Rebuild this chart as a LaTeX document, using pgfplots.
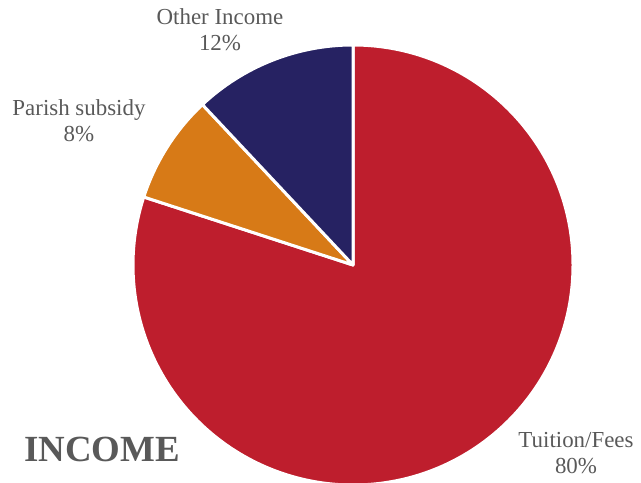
\documentclass[border=0pt]{standalone}
\usepackage{pgfplots}
\usepackage{pgfplotstable}
\pgfplotsset{compat=1.18}
\usepackage{fontspec}
\setmainfont{Liberation Serif}

\definecolor{tuition}{HTML}{BE1E2D}
\definecolor{parish}{HTML}{D77A17}
\definecolor{other}{HTML}{262262}
\definecolor{labelgray}{HTML}{595959}

% share in percent, label position in axis units (1 unit = 1bp)
\pgfplotstableread[col sep=comma]{
name,share,colour,lx,ly
Tuition/Fees,80,tuition,576,30
Parish subsidy,8,parish,79,362
Other Income,12,other,220,453
}\incometable

\begin{document}
\begin{tikzpicture}
\begin{axis}[
    scale only axis,
    width=641bp, height=483bp,
    xmin=0, xmax=641, ymin=0, ymax=483,
    hide axis,
]
\pgfplotstablegetrowsof{\incometable}
\pgfmathtruncatemacro\lastrow{\pgfplotsretval-1}
\def\startangle{90}
\pgfplotsforeachungrouped \i in {0,...,\lastrow}{
    \pgfplotstablegetelem{\i}{share}\of\incometable \let\share\pgfplotsretval
    \pgfplotstablegetelem{\i}{colour}\of\incometable \let\colour\pgfplotsretval
    \pgfmathsetmacro\endangle{\startangle-3.6*\share}
    \edef\next{\noexpand\fill[\colour, draw=white, line width=3pt, line join=round]
        (axis cs:353,218) -- ++(\startangle:220bp)
        arc[start angle=\startangle, end angle=\endangle, radius=220bp] -- cycle;}
    \next
    \let\startangle\endangle
}
\pgfplotsforeachungrouped \i in {0,...,\lastrow}{
    \pgfplotstablegetelem{\i}{name}\of\incometable \let\lname\pgfplotsretval
    \pgfplotstablegetelem{\i}{share}\of\incometable \let\share\pgfplotsretval
    \pgfplotstablegetelem{\i}{lx}\of\incometable \let\lx\pgfplotsretval
    \pgfplotstablegetelem{\i}{ly}\of\incometable \let\ly\pgfplotsretval
    \edef\next{\noexpand\node[align=center, text=labelgray,
        font=\noexpand\fontsize{23}{26}\noexpand\selectfont]
        at (axis cs:\lx,\ly) {\lname\noexpand\\\share\noexpand\%};}
    \next
}
\node[text=labelgray, font=\fontsize{37}{42}\selectfont\bfseries]
    at (axis cs:102,34) {INCOME};
\end{axis}
\pgfresetboundingbox
\path (current axis.south west) rectangle (current axis.north east);
\end{tikzpicture}
\end{document}
